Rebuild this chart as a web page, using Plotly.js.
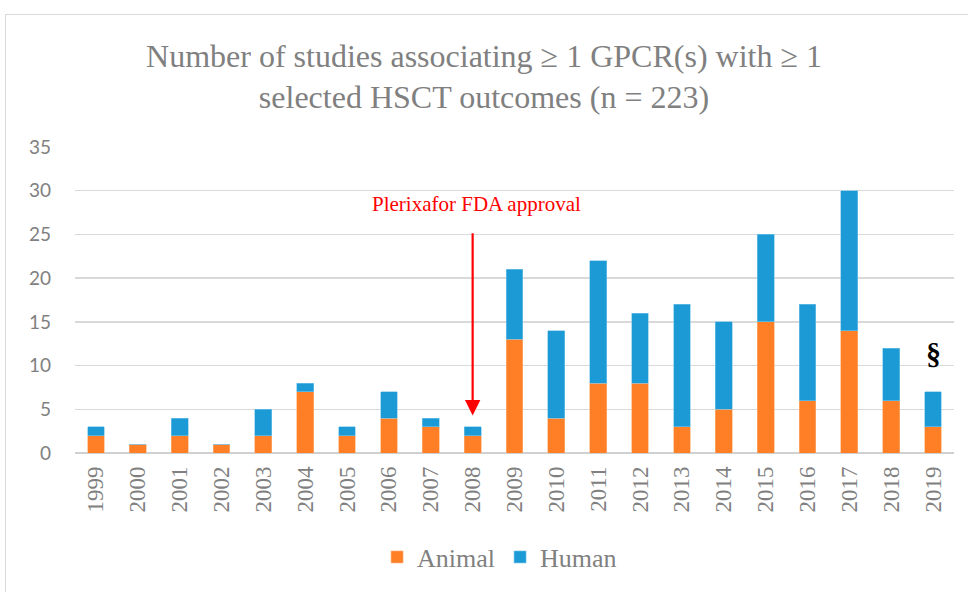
<!DOCTYPE html>
<html>
<head>
<meta charset="utf-8">
<script src="https://cdn.plot.ly/plotly-3.0.1.min.js"></script>
<style>
  html, body { margin: 0; padding: 0; background: #fff; }
  #wrap { position: relative; width: 968px; height: 592px; }
  #chart { position: absolute; left: 0; top: 0; width: 968px; height: 592px; }
  #frame { position: absolute; left: 5px; top: 14px; width: 980px; height: 600px;
           border: 1px solid #d9d9d9; box-sizing: border-box; pointer-events: none; }
</style>
</head>
<body>
<div id="wrap">
  <div id="chart"></div>
  <div id="frame"></div>
</div>
<script>
const years = ["1999","2000","2001","2002","2003","2004","2005","2006","2007","2008","2009",
               "2010","2011","2012","2013","2014","2015","2016","2017","2018","2019"];
const animal = [2,1,2,1,2,7,2,4,3,2,13,4,8,8,3,5,15,6,14,6,3];
const human  = [1,0,2,0,3,1,1,3,1,1,8,10,14,8,14,10,10,11,16,6,4];
const yTicks = [0,5,10,15,20,25,30,35];
const approvalYear = "2008";
const markYear = "2019";

const grey = '#808080';
const serif = 'Liberation Serif, Times New Roman, serif';
const sans = 'Lato, Liberation Sans, sans-serif';
const iApp = years.indexOf(approvalYear);
const iMark = years.indexOf(markYear);

const traces = [
  { type: 'bar', name: 'Animal', x: years, y: animal,
    marker: { color: '#FF7F27', line: { color: '#ffb27a', width: 0.6 } }, hoverinfo: 'x+y' },
  { type: 'bar', name: 'Human', x: years, y: human,
    marker: { color: '#1B9AD6', line: { color: '#7cc7ea', width: 0.6 } }, hoverinfo: 'x+y' }
];

const layout = {
  width: 968, height: 592,
  margin: { l: 75, r: 14, t: 147, b: 137 },
  paper_bgcolor: '#fff', plot_bgcolor: '#fff',
  barmode: 'stack', bargap: 0.6,
  showlegend: true,
  font: { family: serif, color: grey },
  title: {
    text: 'Number of studies associating ≥ 1 GPCR(s) with ≥ 1<br>selected HSCT outcomes (n = 223)',
    font: { family: serif, size: 32, color: grey },
    x: 0.5, xanchor: 'center', xref: 'container',
    y: 0.887, yanchor: 'middle', yref: 'container'
  },
  xaxis: {
    type: 'category', range: [-0.5, years.length - 0.5], autorange: false,
    tickangle: -90,
    tickfont: { family: serif, size: 23, color: grey },
    showgrid: false, zeroline: false, showline: false, ticks: '',
    ticklabelstandoff: 8
  },
  yaxis: {
    range: [0, 35], autorange: false, tickvals: yTicks,
    tickfont: { family: sans, size: 19, color: grey },
    showgrid: true, gridcolor: '#d9d9d9', gridwidth: 1.5,
    zeroline: true, zerolinecolor: '#d0d0d0', zerolinewidth: 2,
    showline: false, ticks: '', ticklabelstandoff: 23
  },
  legend: {
    orientation: 'h', x: 0.483, xanchor: 'center', y: -0.34, yanchor: 'middle',
    font: { family: serif, size: 26, color: grey },
    itemwidth: 30, traceorder: 'normal'
  },
  annotations: [
    { xref: 'x', yref: 'y', axref: 'x', ayref: 'y',
      x: iApp, y: 4.3, ax: iApp, ay: 25.3,
      text: '', showarrow: true, arrowcolor: '#ff0000', arrowwidth: 2.2,
      arrowhead: 2, arrowsize: 1.4, standoff: 0, startstandoff: 0 },
    { xref: 'paper', yref: 'y', x: 0.457, y: 28.5, xanchor: 'center', yanchor: 'middle',
      text: 'Plerixafor FDA approval', showarrow: false,
      font: { family: serif, size: 21, color: '#ff0000' } },
    { xref: 'x', yref: 'y', x: iMark, y: 11.4, xanchor: 'center', yanchor: 'middle',
      text: '<b>§</b>', showarrow: false,
      font: { family: serif, size: 30, color: '#000' } }
  ]
};

Plotly.newPlot('chart', traces, layout, { displayModeBar: false, staticPlot: true });
</script>
</body>
</html>
